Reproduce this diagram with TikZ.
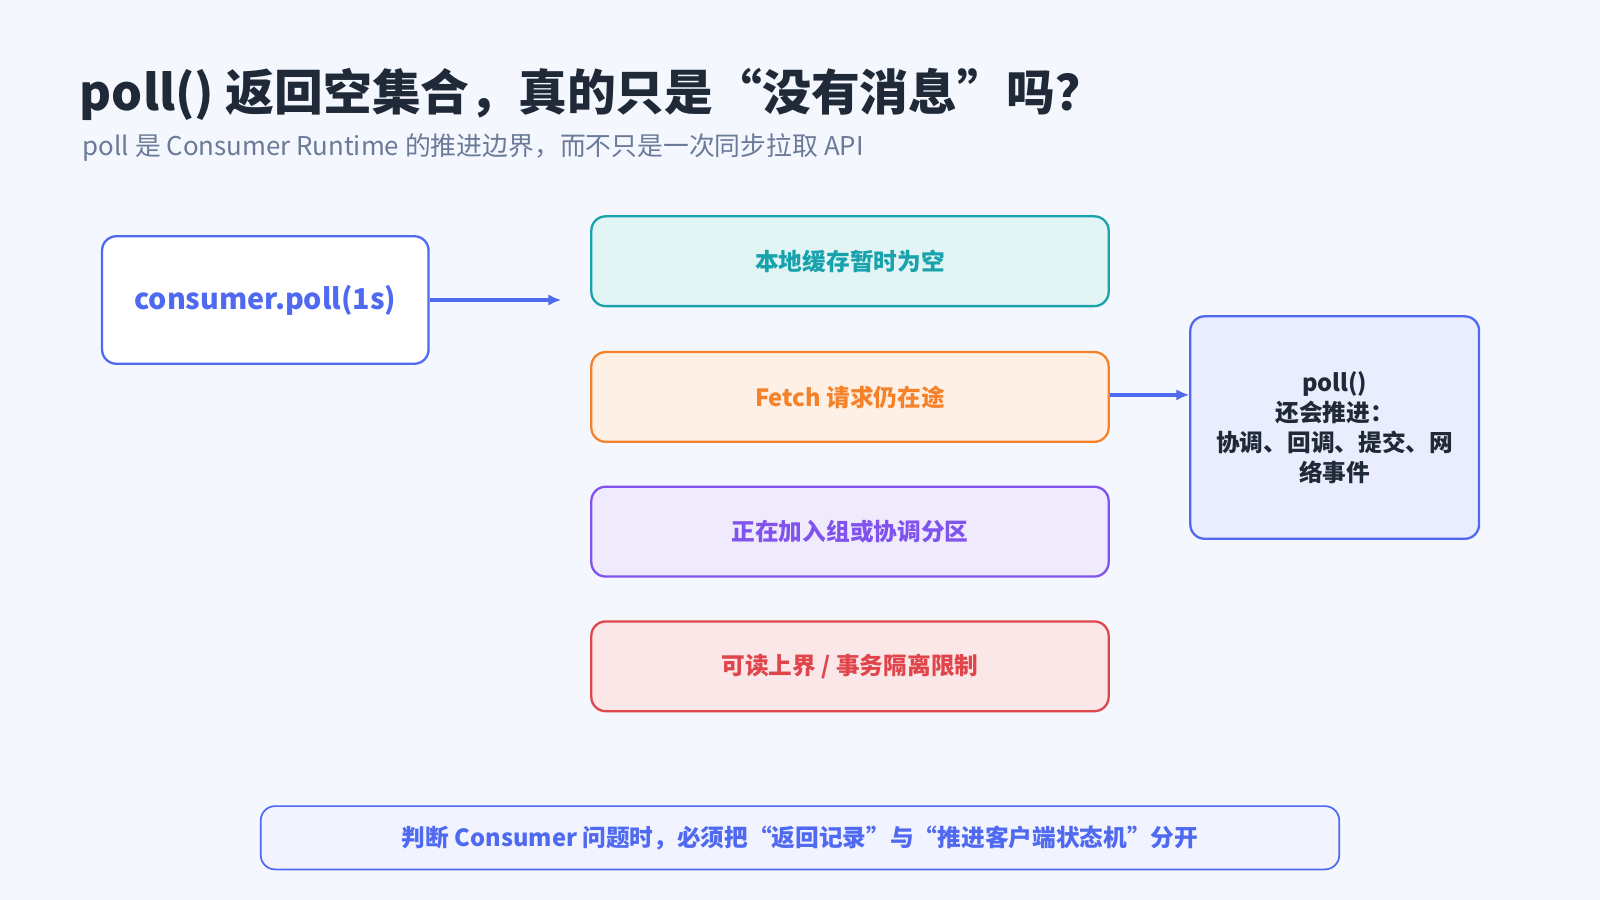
\documentclass[tikz,border=0pt]{standalone}
\usepackage{fontspec}
\setmainfont{Noto Sans CJK SC}
\usetikzlibrary{positioning,arrows.meta}
\definecolor{bgc}{HTML}{F4F7FD}
\definecolor{ink}{HTML}{1F2937}
\definecolor{subc}{HTML}{6B7A99}
\definecolor{bluec}{HTML}{4F6AF0}
\definecolor{tealc}{HTML}{17A2AC}
\definecolor{orangec}{HTML}{F5822A}
\definecolor{purplec}{HTML}{8052EE}
\definecolor{redc}{HTML}{E0454C}
\tikzset{
  box/.style={draw, line width=1.6pt, rounded corners=10pt, align=center, font=\bfseries\fontsize{16.5}{21}\selectfont},
  case/.style={box, minimum width=507*0.025cm, minimum height=88*0.025cm},
  link/.style={-{Latex[length=9pt,width=8pt]}, line width=2.6pt, bluec}
}
\begin{document}
\begin{tikzpicture}[x=0.025cm,y=-0.025cm]
  \fill[bgc] (0,0) rectangle (1568,882);
  % title
  \node[anchor=base west, inner sep=0, text=ink, font=\bfseries\fontsize{34}{40}\selectfont] (title) at (78,108) {poll() 返回空集合，真的只是“没有消息”吗？};
  \node[anchor=base west, inner sep=0, text=subc, font=\fontsize{18}{22}\selectfont] (subtitle) at (81,152) {poll 是 Consumer Runtime 的推进边界，而不只是一次同步拉取 API};
  % call
  \node[box, draw=bluec, fill=white, text=bluec, minimum width=320*0.025cm, minimum height=125*0.025cm, font=\bfseries\fontsize{20}{26}\selectfont] (call) at (260,294) {consumer.poll(1s)};
  \coordinate (callend) at (550,294);
  % cases
  \node[case, draw=tealc, fill=tealc!12, text=tealc] (cache) at (833,256) {本地缓存暂时为空};
  \node[case, draw=orangec, fill=orangec!12, text=orangec] (fetch) at (833,389) {Fetch 请求仍在途};
  \node[case, draw=purplec, fill=purplec!12, text=purplec] (join) at (833,521) {正在加入组或协调分区};
  \node[case, draw=redc, fill=redc!13, text=redc] (limit) at (833,653) {可读上界 / 事务隔离限制};
  % side
  \node[box, draw=bluec, fill=bluec!12, text=ink, minimum width=283*0.025cm, minimum height=218*0.025cm, text width=255*0.025cm] (side) at (1308,419) {poll()\\还会推进：\\协调、回调、提交、网\\络事件};
  % note
  \node[box, line width=1.2pt, draw=bluec, fill=bluec!8, text=bluec, minimum width=1057*0.025cm, minimum height=62*0.025cm] (note) at (784,821) {判断 Consumer 问题时，必须把“返回记录”与“推进客户端状态机”分开};
  % arrows
  \draw[link] (call.east) -- (callend);
  \draw[link] (fetch.east |- 0,387) -- (side.west |- 0,387);
\end{tikzpicture}
\end{document}
